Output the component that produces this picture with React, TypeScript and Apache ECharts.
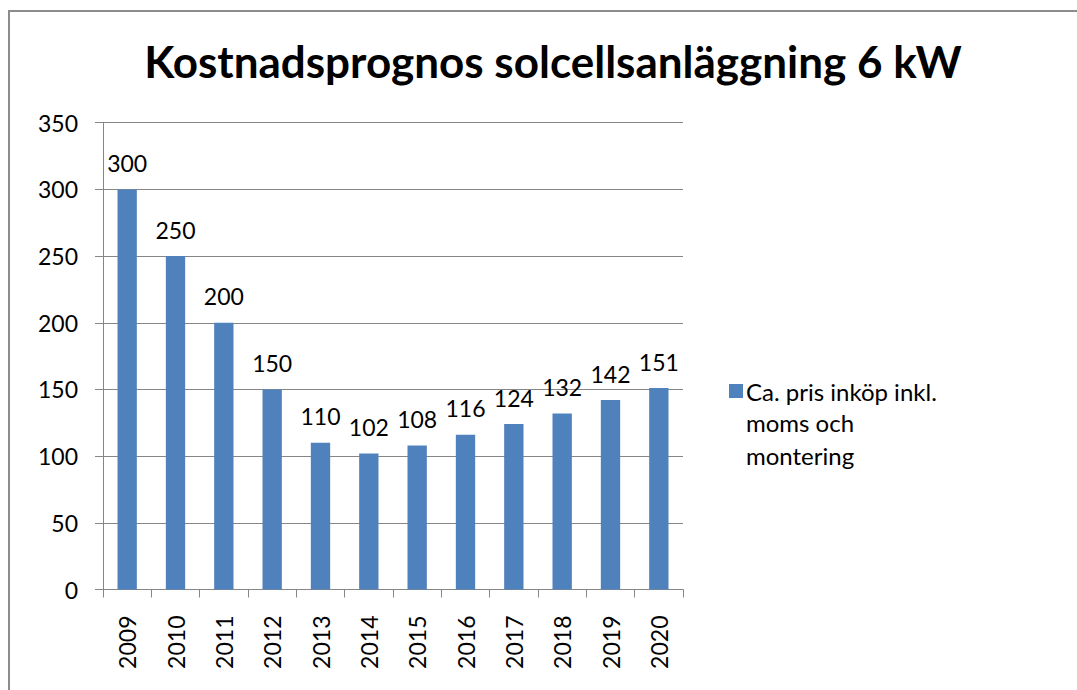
import React, { useEffect, useRef } from "react";
import * as echarts from "echarts";

const TITLE = "Kostnadsprognos solcellsanläggning 6 kW";
const SERIES_NAME = "Ca. pris inköp inkl. moms och montering";
const YEARS = ["2009", "2010", "2011", "2012", "2013", "2014", "2015", "2016", "2017", "2018", "2019", "2020"];
const PRICES = [300, 250, 200, 150, 110, 102, 108, 116, 124, 132, 142, 151];
const Y_MIN = 0;
const Y_MAX = 350;
const Y_STEP = 50;

const FONT = "Lato";
const GRAY = "#868686";

export default function App() {
  const ref = useRef<HTMLDivElement>(null);
  useEffect(() => {
    if (!ref.current) return;
    const chart = echarts.init(ref.current, null, { renderer: "svg" });
    chart.setOption({
      animation: false,
      backgroundColor: "#ffffff",
      textStyle: { fontFamily: FONT },
      title: {
        text: TITLE,
        left: 548,
        textAlign: "center",
        top: 34,
        textStyle: { fontFamily: FONT, fontWeight: "bold", fontSize: 44, color: "#000000" },
      },
      grid: { left: 103, top: 122.7, width: 580, height: 466.8, containLabel: false },
      legend: {
        show: true,
        left: 724,
        top: 374,
        itemWidth: 14,
        itemHeight: 14,
        itemGap: 6,
        icon: "rect",
        data: [SERIES_NAME],
        formatter: () => "Ca. pris inköp inkl.",
        textStyle: { fontFamily: FONT, fontSize: 24, color: "#000000", padding: [0, 0, 0, -2] },
      },
      xAxis: {
        type: "category",
        data: YEARS,
        axisLine: { show: true, lineStyle: { color: GRAY, width: 1 } },
        axisTick: { show: true, alignWithLabel: false, length: 8, lineStyle: { color: GRAY } },
        axisLabel: { rotate: 90, margin: 26, fontFamily: FONT, fontSize: 23, color: "#000000" },
        splitLine: { show: false },
      },
      yAxis: {
        type: "value",
        min: Y_MIN,
        max: Y_MAX,
        interval: Y_STEP,
        axisLine: { show: true, lineStyle: { color: GRAY, width: 1 } },
        axisTick: { show: true, length: 8, lineStyle: { color: GRAY } },
        axisLabel: { margin: 25, fontFamily: FONT, fontSize: 23, color: "#000000" },
        splitLine: { show: true, lineStyle: { color: GRAY, width: 1 } },
      },
      series: [
        {
          name: SERIES_NAME,
          type: "bar",
          data: PRICES,
          barWidth: "40%",
          itemStyle: { color: "#4F81BD" },
          label: {
            show: true,
            position: "top",
            distance: 15,
            fontFamily: FONT,
            fontSize: 23,
            color: "#000000",
          },
        },
      ],
      graphic: [
        {
          type: "rect",
          shape: { x: 9, y: 11, width: 1200, height: 800 },
          style: { fill: "none", stroke: "#8c8c8c", lineWidth: 2 },
          silent: true,
          z: 100,
        },
        {
          type: "text",
          left: 746,
          top: 406,
          style: {
            text: "moms och\nmontering",
            fontFamily: FONT,
            fontSize: 24,
            lineHeight: 33,
            fill: "#000000",
          },
        },
      ],
    });
    return () => chart.dispose();
  }, []);
  return (
    <div
      ref={ref}
      style={{ position: "fixed", left: 0, top: 0, width: 1077, height: 690 }}
    />
  );
}
